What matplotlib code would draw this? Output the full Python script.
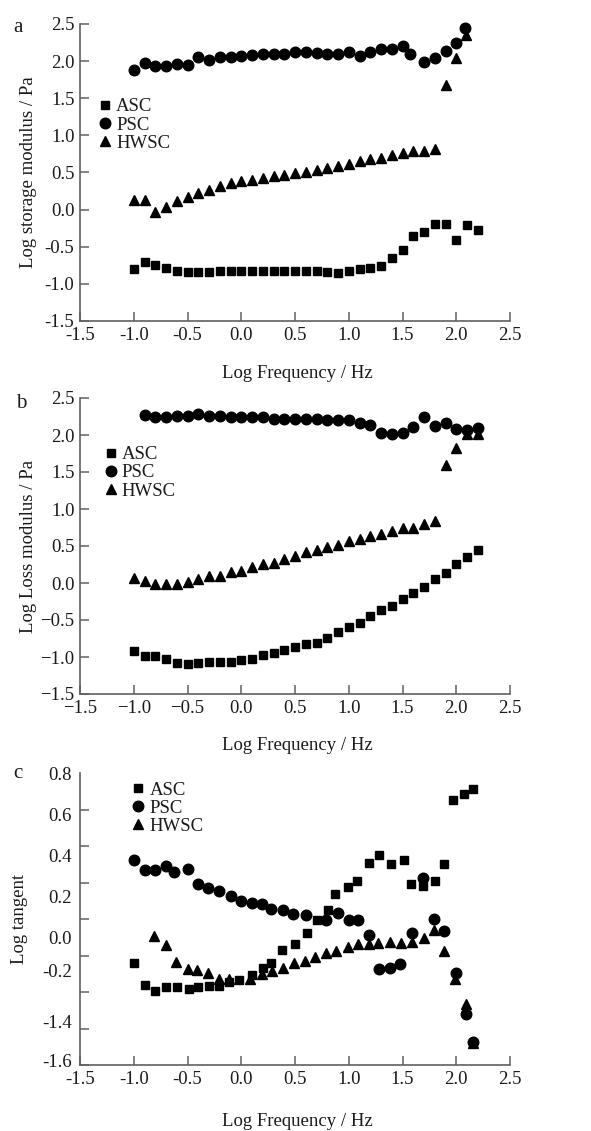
import numpy as np
import matplotlib
matplotlib.use("Agg")
import matplotlib.pyplot as plt

plt.rcParams['font.family'] = ['Liberation Serif', 'DejaVu Serif']
plt.rcParams['font.size'] = 13

# ---------------- panel a: storage modulus ----------------
a_asc_x = [-1.0, -0.9, -0.8, -0.7, -0.6, -0.5, -0.4, -0.3, -0.2, -0.1, 0.0, 0.1, 0.2, 0.3, 0.4, 0.5, 0.6,
           0.7, 0.8, 0.9, 1.0, 1.1, 1.2, 1.3, 1.4, 1.5, 1.6, 1.7, 1.8, 1.9, 2.0, 2.1, 2.2]
a_asc_y = [-0.80, -0.71, -0.74, -0.78, -0.83, -0.84, -0.84, -0.84, -0.83, -0.83, -0.83, -0.83, -0.83, -0.83,
           -0.83, -0.83, -0.83, -0.83, -0.84, -0.86, -0.82, -0.80, -0.78, -0.76, -0.65, -0.54, -0.35, -0.30,
           -0.20, -0.20, -0.41, -0.21, -0.28]
a_psc_x = [-1.0, -0.9, -0.8, -0.7, -0.6, -0.5, -0.4, -0.3, -0.2, -0.1, 0.0, 0.1, 0.2, 0.3, 0.4, 0.5, 0.6,
           0.7, 0.8, 0.9, 1.0, 1.1, 1.2, 1.3, 1.4, 1.5, 1.57, 1.7, 1.8, 1.9, 2.0, 2.08]
a_psc_y = [1.88, 1.97, 1.94, 1.94, 1.96, 1.95, 2.06, 2.01, 2.05, 2.05, 2.07, 2.08, 2.10, 2.10, 2.09, 2.12,
           2.12, 2.11, 2.10, 2.09, 2.12, 2.07, 2.12, 2.17, 2.17, 2.20, 2.10, 1.99, 2.04, 2.13, 2.25, 2.44]
a_hwsc_x = [-1.0, -0.9, -0.8, -0.7, -0.6, -0.5, -0.4, -0.3, -0.2, -0.1, 0.0, 0.1, 0.2, 0.3, 0.4, 0.5, 0.6,
            0.7, 0.8, 0.9, 1.0, 1.1, 1.2, 1.3, 1.4, 1.5, 1.6, 1.7, 1.8, 1.9, 2.0, 2.09]
a_hwsc_y = [0.13, 0.13, -0.03, 0.03, 0.12, 0.17, 0.22, 0.27, 0.32, 0.36, 0.39, 0.40, 0.43, 0.45, 0.47,
            0.49, 0.50, 0.53, 0.56, 0.59, 0.61, 0.66, 0.68, 0.69, 0.74, 0.76, 0.79, 0.79, 0.82, 1.68, 2.04, 2.35]

# ---------------- panel b: loss modulus ----------------
b_asc_x = a_asc_x
b_asc_y = [-0.92, -0.99, -0.99, -1.03, -1.08, -1.09, -1.08, -1.07, -1.07, -1.07, -1.04, -1.03, -0.97, -0.95,
           -0.91, -0.87, -0.83, -0.81, -0.74, -0.66, -0.60, -0.54, -0.44, -0.37, -0.31, -0.22, -0.13, -0.06,
           0.05, 0.14, 0.26, 0.35, 0.45]
b_psc_x = [-0.9, -0.8, -0.7, -0.6, -0.5, -0.4, -0.3, -0.2, -0.1, 0.0, 0.1, 0.2, 0.3, 0.4, 0.5, 0.6, 0.7,
           0.8, 0.9, 1.0, 1.1, 1.2, 1.3, 1.4, 1.5, 1.6, 1.7, 1.8, 1.9, 2.0, 2.1, 2.2]
b_psc_y = [2.27, 2.24, 2.24, 2.25, 2.25, 2.28, 2.25, 2.25, 2.24, 2.24, 2.24, 2.24, 2.22, 2.22, 2.22, 2.21,
           2.21, 2.20, 2.20, 2.20, 2.16, 2.13, 2.03, 2.02, 2.03, 2.11, 2.24, 2.12, 2.16, 2.08, 2.07, 2.09]
b_hwsc_x = a_asc_x
b_hwsc_y = [0.07, 0.03, -0.01, -0.02, -0.02, 0.02, 0.05, 0.09, 0.10, 0.15, 0.16, 0.21, 0.26, 0.27, 0.32,
            0.36, 0.42, 0.44, 0.48, 0.52, 0.57, 0.60, 0.63, 0.66, 0.70, 0.74, 0.75, 0.80, 0.84, 1.59, 1.82,
            2.01, 2.01]

# ---------------- panel c: loss tangent (axis in its own tick units) ----------------
c_asc_x = [-1.0, -0.9, -0.8, -0.7, -0.6, -0.49, -0.4, -0.3, -0.21, -0.11, -0.02, 0.1, 0.2, 0.28, 0.38,
           0.5, 0.61, 0.7, 0.81, 0.87, 0.99, 1.08, 1.19, 1.28, 1.39, 1.51, 1.58, 1.69, 1.8, 1.89, 1.97, 2.07,
           2.16]
c_asc_y = [-0.763, -0.942, -0.991, -0.956, -0.961, -0.972, -0.961, -0.950, -0.950, -0.914, -0.901, -0.859,
           -0.805, -0.763, -0.654, -0.604, -0.511, -0.412, -0.325, -0.196, -0.135, -0.091, 0.059, 0.125,
           0.054, 0.081, -0.111, -0.127, -0.091, 0.054, 0.581, 0.630, 0.671]
c_psc_x = [-1.0, -0.9, -0.8, -0.7, -0.63, -0.5, -0.4, -0.31, -0.21, -0.1, 0.0, 0.1, 0.19, 0.28, 0.39, 0.48,
           0.6, 0.79, 0.9, 1.0, 1.09, 1.19, 1.28, 1.38, 1.48, 1.59, 1.69, 1.79, 1.89, 2.0, 2.09, 2.16]
c_psc_y = [0.087, 0.005, 0.005, 0.037, -0.017, 0.010, -0.113, -0.146, -0.168, -0.215, -0.256, -0.270,
           -0.278, -0.314, -0.327, -0.358, -0.366, -0.407, -0.347, -0.407, -0.412, -0.530, -0.810, -0.805,
           -0.772, -0.517, -0.064, -0.401, -0.495, -0.846, -1.183, -1.414]
c_hwsc_x = [-0.81, -0.7, -0.61, -0.5, -0.41, -0.31, -0.21, -0.11, 0.08, 0.19, 0.29, 0.39, 0.49, 0.59, 0.69,
            0.79, 0.88, 0.99, 1.09, 1.19, 1.27, 1.38, 1.49, 1.59, 1.7, 1.79, 1.89, 1.99, 2.09, 2.16]
c_hwsc_y = [-0.539, -0.613, -0.755, -0.810, -0.818, -0.840, -0.895, -0.890, -0.890, -0.851, -0.827, -0.805,
            -0.763, -0.742, -0.709, -0.681, -0.662, -0.632, -0.604, -0.604, -0.599, -0.591, -0.599, -0.585,
            -0.558, -0.489, -0.667, -0.895, -1.098, -1.422]
c_tick_labels = ['0.8', '0.6', '0.4', '0.2', '0.0', '-0.2', '-1.4', '-1.6']
c_label_pos = [0.8, 0.462, 0.124, -0.214, -0.551, -0.822, -1.241, -1.565]

x_ticks = [-1.5, -1.0, -0.5, 0.0, 0.5, 1.0, 1.5, 2.0, 2.5]
spine_col = '#606060'
txt_col = '#1a1a1a'

fig = plt.figure(figsize=(5.91, 11.31), dpi=100)
W, H = 591, 1131


def make_ax(top, bottom):
    ax = fig.add_axes([80 / W, 1 - bottom / H, 430 / W, (bottom - top) / H])
    for s in ['top', 'right']:
        ax.spines[s].set_visible(False)
    for s in ['left', 'bottom']:
        ax.spines[s].set_color(spine_col)
        ax.spines[s].set_linewidth(1.2)
    ax.tick_params(which='both', direction='in', length=6.5, width=1.1, color=spine_col,
                   labelsize=13.5, labelcolor=txt_col, pad=4)
    return ax


def draw(ax, sets, minus):
    ax.plot(sets[0][0], sets[0][1], 's', color='k', ms=5.8, label='ASC', clip_on=False)
    ax.plot(sets[1][0], sets[1][1], 'o', color='k', ms=7.6, label='PSC', clip_on=False)
    ax.plot(sets[2][0], sets[2][1], '^', color='k', ms=7.2, label='HWSC', clip_on=False)
    ax.set_xlim(-1.5, 2.5)
    ax.set_xticks(x_ticks)
    ax.set_xticklabels([f'{v:.1f}'.replace('-', minus) for v in x_ticks])


def leg(ax, anchor):
    lg = ax.legend(loc='center left', bbox_to_anchor=anchor, frameon=False, borderpad=0,
                   borderaxespad=0, handlelength=0.6, handletextpad=0.3, labelspacing=0.05,
                   fontsize=13.5)
    for t in lg.get_texts():
        t.set_color(txt_col)


# panel a
ax1 = make_ax(24, 321)
draw(ax1, [(a_asc_x, a_asc_y), (a_psc_x, a_psc_y), (a_hwsc_x, a_hwsc_y)], '-')
yt = [-1.5, -1.0, -0.5, 0.0, 0.5, 1.0, 1.5, 2.0, 2.5]
ax1.set_ylim(-1.5, 2.5)
ax1.set_yticks(yt)
ax1.set_yticklabels([f'{v:.1f}' for v in yt])
ax1.set_ylabel('Log storage modulus / Pa', fontsize=13.5, color=txt_col)
ax1.yaxis.set_label_coords(-0.1, 0.5)
ax1.set_xlabel('Log Frequency / Hz', fontsize=13.5, color=txt_col)
ax1.xaxis.set_label_coords(0.505, -0.148)
leg(ax1, (0.045, 0.66))

# panel b
ax2 = make_ax(398, 694)
draw(ax2, [(b_asc_x, b_asc_y), (b_psc_x, b_psc_y), (b_hwsc_x, b_hwsc_y)], '\u2212')
ax2.set_ylim(-1.5, 2.5)
ax2.set_yticks(yt)
ax2.set_yticklabels([f'{v:.1f}'.replace('-', '\u2212') for v in yt])
ax2.set_ylabel('Log Loss modulus / Pa', fontsize=13.5, color=txt_col)
ax2.yaxis.set_label_coords(-0.1, 0.5)
ax2.set_xlabel('Log Frequency / Hz', fontsize=13.5, color=txt_col)
ax2.xaxis.set_label_coords(0.505, -0.145)
leg(ax2, (0.058, 0.747))

# panel c
ax3 = make_ax(773, 1065)
draw(ax3, [(c_asc_x, c_asc_y), (c_psc_x, c_psc_y), (c_hwsc_x, c_hwsc_y)], '-')
ax3.set_ylim(-1.6, 0.8)
ax3.set_yticks(np.linspace(-1.6, 0.8, 9), minor=True)
ax3.set_yticks(c_label_pos)
ax3.set_yticklabels(c_tick_labels)
ax3.tick_params(axis='y', which='major', length=0, pad=6)
ax3.set_ylabel('Log tangent', fontsize=13.5, color=txt_col)
ax3.yaxis.set_label_coords(-0.12, 0.5)
ax3.set_xlabel('Log Frequency / Hz', fontsize=13.5, color=txt_col)
ax3.xaxis.set_label_coords(0.505, -0.165)
leg(ax3, (0.122, 0.88))

fig.text(13 / W, 1 - 27 / H, 'a', fontsize=15, va='center', color=txt_col)
fig.text(16 / W, 1 - 403 / H, 'b', fontsize=15, va='center', color=txt_col)
fig.text(13 / W, 1 - 773 / H, 'c', fontsize=15, va='center', color=txt_col)

fig.savefig('out.png', dpi=100)
